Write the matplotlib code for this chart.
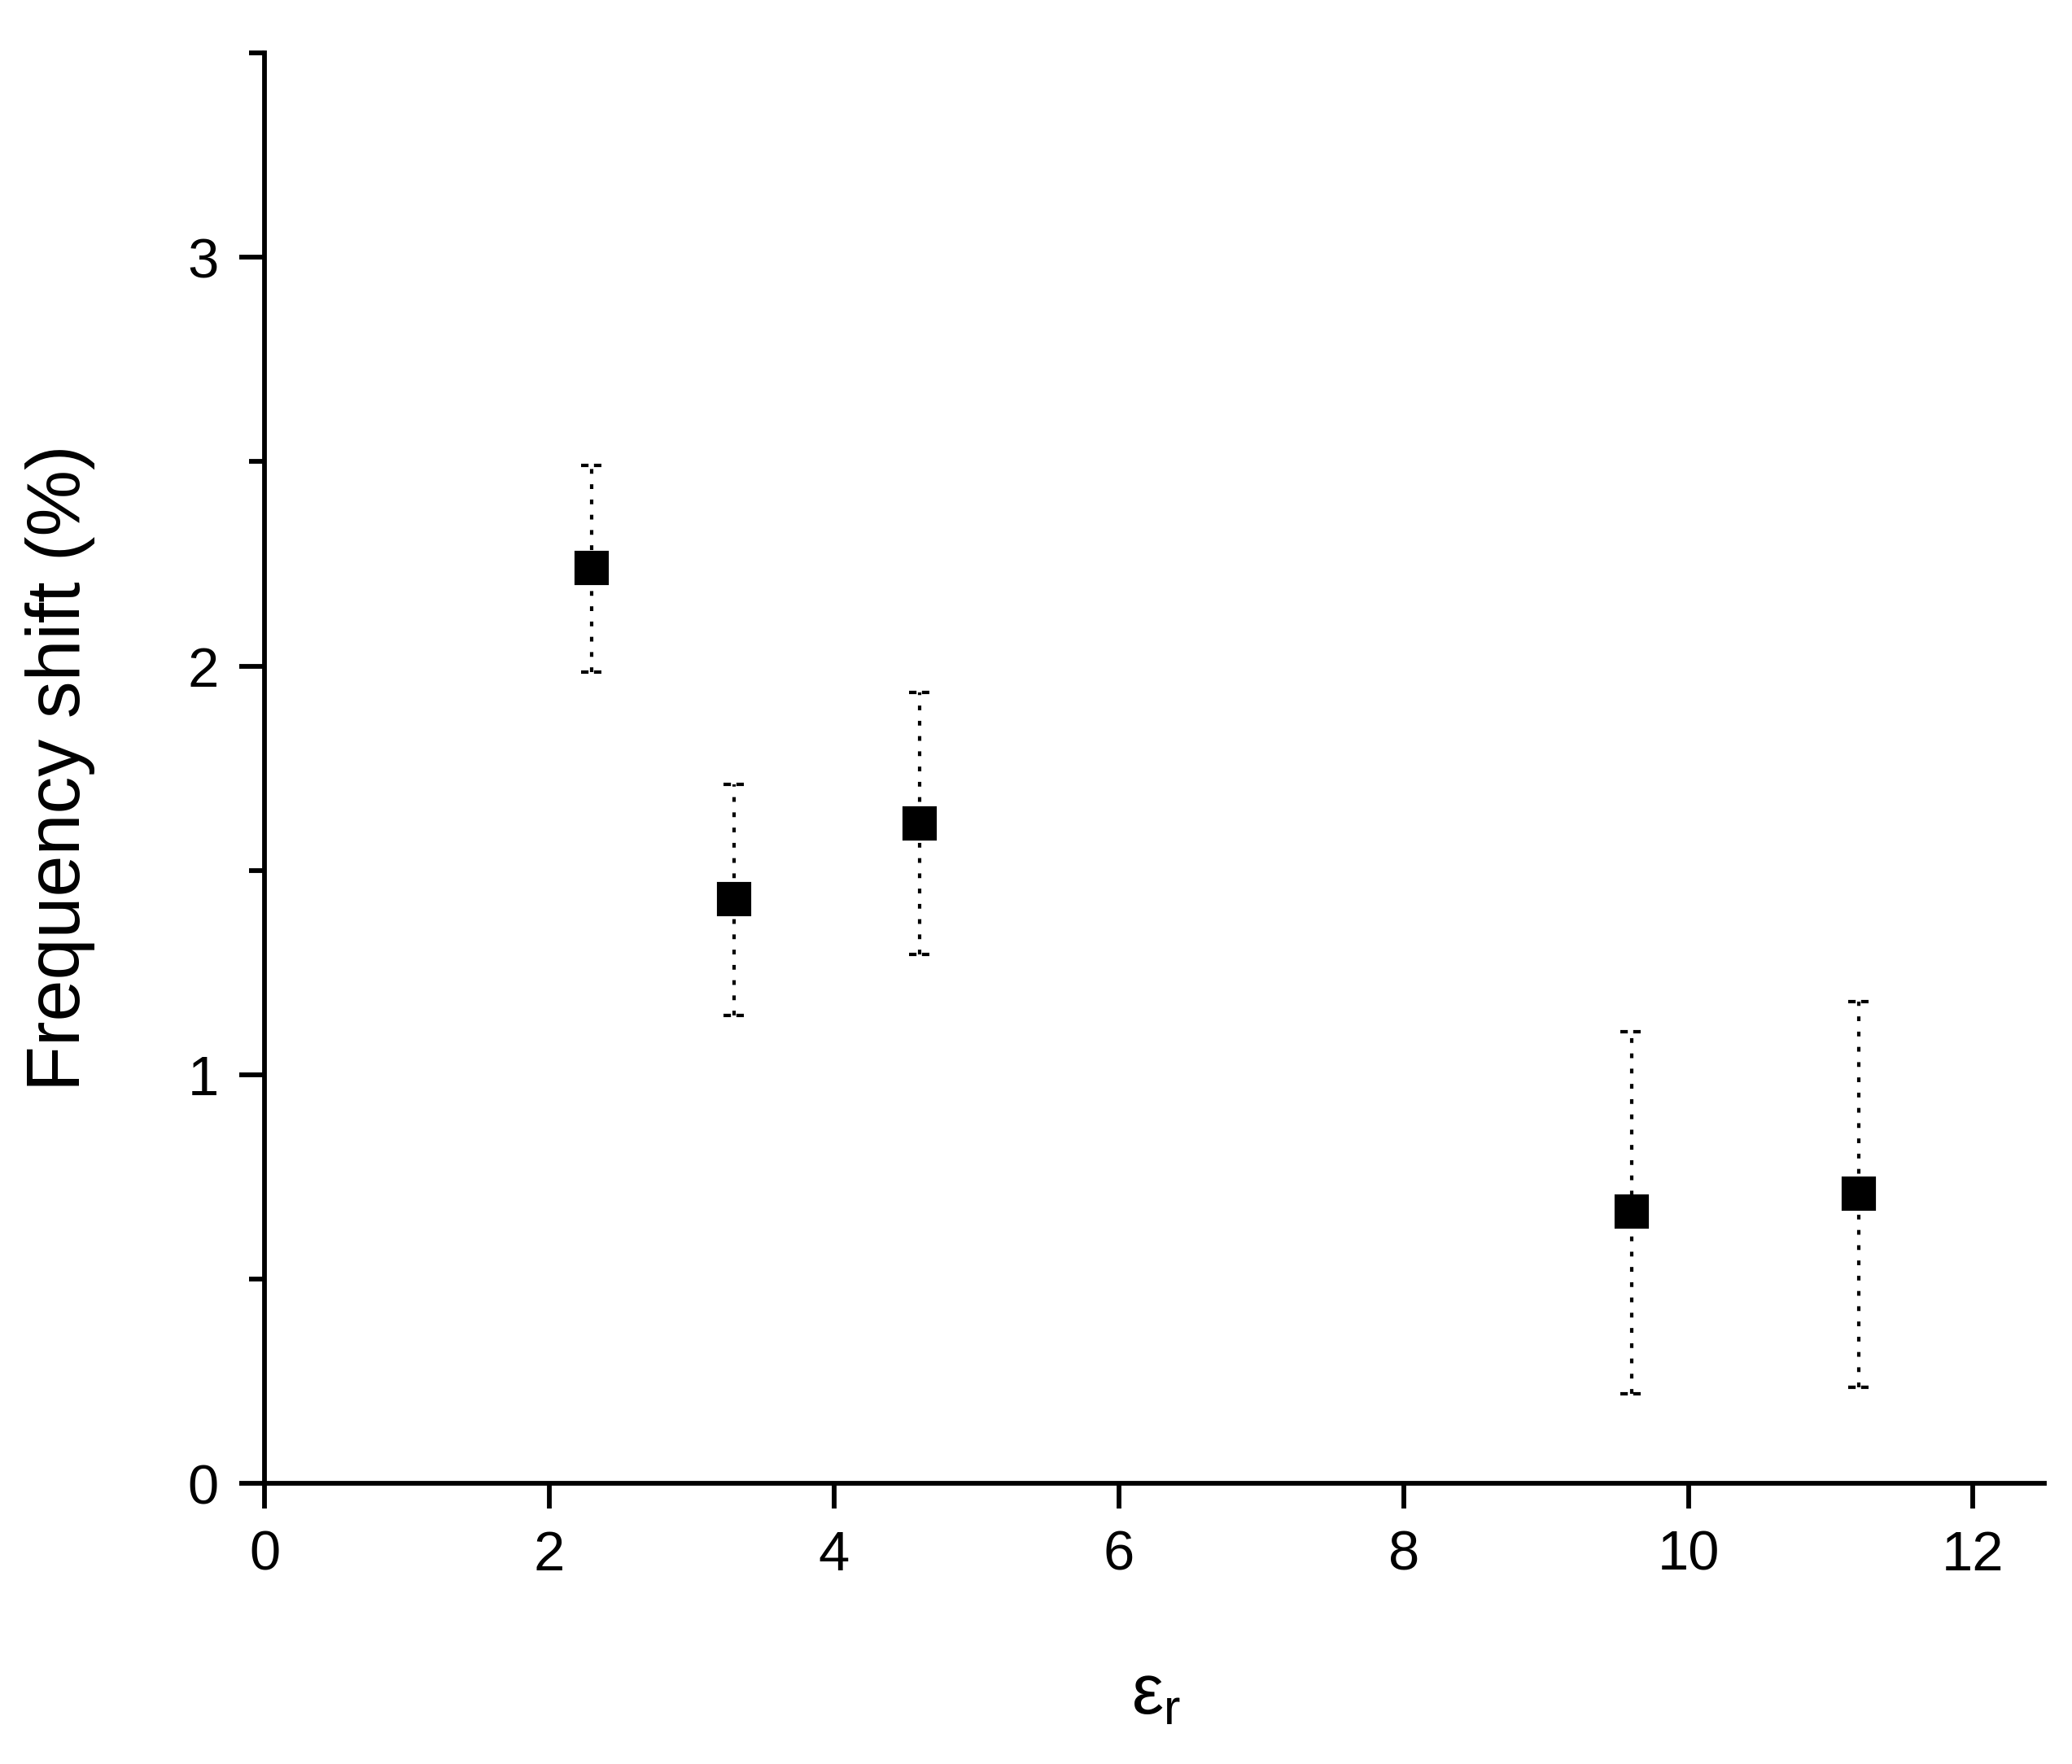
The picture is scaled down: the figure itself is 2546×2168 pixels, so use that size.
import matplotlib
matplotlib.use("Agg")
import matplotlib.pyplot as plt
import numpy as np

# Data
eps_r = [2.3, 3.3, 4.6, 9.6, 11.2]
freq_shift = [2.24, 1.43, 1.615, 0.665, 0.71]
err_upper = [0.25, 0.28, 0.32, 0.44, 0.47]
err_lower = [0.255, 0.285, 0.32, 0.445, 0.475]
xticks = [0, 2, 4, 6, 8, 10, 12]
yticks = [0, 1, 2, 3]

plt.rcParams['font.family'] = ['Liberation Sans', 'DejaVu Sans']
plt.rcParams['mathtext.fontset'] = 'custom'
plt.rcParams['mathtext.rm'] = 'Liberation Sans'
plt.rcParams['mathtext.it'] = 'Liberation Sans'
plt.rcParams['lines.scale_dashes'] = False

fig = plt.figure(figsize=(2546/300, 2168/300), dpi=300)
ax = fig.add_axes([0.1277, 0.159, 0.9866-0.1277, 0.970-0.159])

x = np.array(eps_r)
y = np.array(freq_shift)
lo = np.array(err_lower)
hi = np.array(err_upper)

dot = (0, (1.4, 3.1))
ax.vlines(x, y - lo, y + hi, colors='black', linewidth=1.0, linestyles=[dot])
cap_half = 0.075
ax.hlines(np.concatenate([y - lo, y + hi]),
          np.concatenate([x, x]) - cap_half,
          np.concatenate([x, x]) + cap_half,
          colors='black', linewidth=1.0, linestyles=[(0, (2.2, 1.6))])
ax.plot(x, y, linestyle='none', marker='s', markersize=9.2, color='black', zorder=5)

ax.set_xlim(0, 12.5)
ax.set_ylim(0, 3.5)
ax.set_xticks(xticks)
ax.set_yticks(yticks)
ax.set_yticks([0.5, 1.5, 2.5, 3.5], minor=True)

for s in ['top', 'right']:
    ax.spines[s].set_visible(False)
for s in ['left', 'bottom']:
    ax.spines[s].set_linewidth(1.4)

ax.tick_params(axis='both', which='major', direction='out', length=7.5, width=1.4,
               labelsize=16.5, pad=6)
ax.tick_params(axis='y', which='minor', direction='out', length=4.5, width=1.4)

ax.set_ylabel('Frequency shift (%)', fontsize=22)
ax.set_xlabel(r'$\mathregular{\epsilon_r}$', fontsize=21)
ax.yaxis.set_label_coords(-0.095, 0.5)
ax.xaxis.set_label_coords(0.501, -0.125)

fig.savefig('out.png', dpi=300)
